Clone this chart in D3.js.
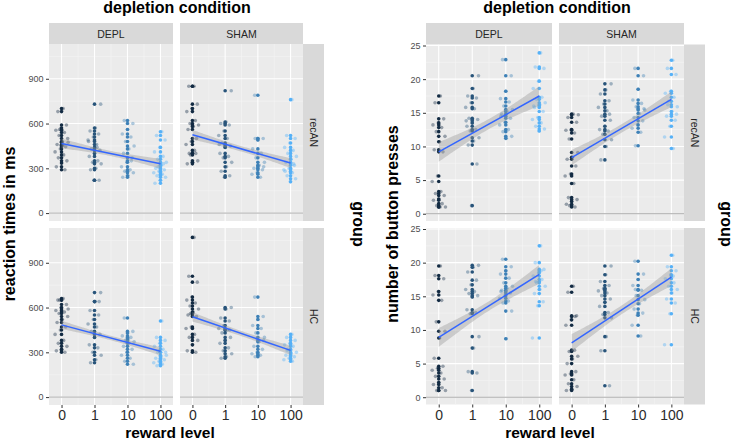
<!DOCTYPE html>
<html>
<head>
<meta charset="utf-8">
<script src="https://cdn.jsdelivr.net/npm/d3@7"></script>
<style>
  html, body { margin: 0; padding: 0; background: #ffffff; }
  svg { display: block; font-family: "Liberation Sans", Arial, sans-serif; }
</style>
</head>
<body>
<svg id="chart" width="735" height="441"></svg>
<script>
// ---------------- DATA ----------------
const rewardLabels = ["0", "1", "10", "100"];
const depletionLevels = ["DEPL", "SHAM"];
const groupLevels = ["recAN", "HC"];

// Reaction times (ms) — one array per reward level (0, 1, 10, 100)
const rtDeplRecAN = [
  [700, 680, 590, 570, 555, 540, 520, 500, 480, 460, 445, 430, 410, 390, 370, 350, 335, 310, 290, 560, 475, 455],
  [730, 570, 550, 530, 510, 490, 460, 430, 420, 400, 380, 350, 340, 330, 300, 290, 220, 220, 480, 440],
  [620, 600, 560, 530, 510, 480, 450, 430, 400, 370, 340, 310, 290, 280, 270, 250, 240, 350],
  [545, 520, 490, 440, 410, 380, 360, 340, 320, 300, 290, 280, 270, 260, 250, 240, 220, 200, 330, 310]
];
const rtShamRecAN = [
  [850, 850, 730, 700, 680, 620, 600, 590, 580, 560, 500, 480, 460, 420, 400, 350, 340, 330, 400, 390],
  [820, 610, 600, 590, 550, 520, 500, 470, 450, 440, 400, 380, 370, 340, 310, 280, 250, 240, 460],
  [790, 500, 490, 430, 400, 370, 340, 320, 300, 290, 270, 260, 240, 500, 310],
  [760, 520, 500, 470, 440, 420, 400, 380, 360, 340, 320, 300, 290, 270, 250, 230, 210, 280, 330]
];
const rtDeplHC = [
  [660, 650, 620, 600, 580, 570, 560, 540, 520, 500, 470, 450, 420, 380, 360, 340, 320, 310, 300, 650, 590],
  [700, 640, 580, 550, 520, 490, 470, 440, 420, 400, 350, 330, 300, 280, 250, 230, 640],
  [530, 440, 430, 410, 400, 380, 370, 360, 340, 320, 300, 280, 260, 240, 220, 390],
  [510, 400, 380, 360, 340, 320, 300, 280, 270, 260, 250, 240, 230, 220, 210, 300]
];
const rtShamHC = [
  [1070, 810, 770, 670, 650, 630, 610, 590, 570, 550, 540, 470, 460, 420, 400, 380, 350, 310, 300, 560],
  [600, 590, 530, 510, 480, 460, 450, 430, 400, 380, 360, 330, 310, 290, 270, 260, 450],
  [670, 540, 520, 480, 460, 430, 400, 370, 340, 320, 300, 290, 280, 270, 380],
  [420, 400, 380, 360, 350, 340, 320, 300, 290, 280, 270, 260, 250, 240, 310]
];

// Number of button presses — one array per reward level (0, 1, 10, 100)
const bpDeplRecAN = [
  [17.5, 16.5, 14.1, 13.5, 13.2, 12.8, 12.2, 11.5, 10.7, 9.5, 9.2, 5.6, 4.8, 3.3, 3.0, 2.7, 2.2, 2.0, 1.5, 1.2, 1.0, 1.0],
  [20.5, 18.6, 17.5, 17.2, 16.5, 15.8, 15.6, 14.2, 14.0, 13.5, 13.0, 12.5, 12.3, 11.3, 10.8, 10.2, 7.4, 1.2, 13.8],
  [22.9, 20.5, 18.2, 17.1, 16.6, 16.0, 15.5, 15.2, 14.8, 14.2, 13.6, 13.2, 12.5, 12.2, 11.5, 11.2, 14.5],
  [23.9, 21.8, 21.6, 19.7, 18.6, 17.3, 17.0, 16.5, 16.2, 15.8, 15.2, 14.3, 14.0, 13.5, 13.0, 12.6, 12.3, 16.0]
];
const bpShamRecAN = [
  [14.8, 14.3, 13.6, 12.5, 12.4, 12.0, 11.1, 9.1, 8.4, 8.1, 7.1, 5.9, 5.6, 4.5, 2.4, 2.1, 1.8, 1.4, 1.0, 1.2, 14.7],
  [19.3, 18.4, 17.8, 16.8, 16.3, 15.8, 15.3, 14.5, 13.9, 13.0, 12.5, 12.3, 11.8, 11.0, 10.0, 8.0, 14.8],
  [21.6, 20.5, 18.5, 16.9, 16.4, 15.9, 15.4, 14.9, 14.3, 13.8, 13.2, 12.7, 12.1, 10.1, 15.6],
  [22.8, 21.6, 20.7, 18.2, 17.9, 17.3, 16.7, 15.9, 15.2, 14.5, 13.9, 13.0, 11.4, 9.7, 16.2, 14.8]
];
const bpDeplHC = [
  [19.5, 18.1, 17.6, 15.7, 15.2, 14.4, 11.2, 9.8, 8.8, 5.8, 4.6, 4.3, 4.0, 3.6, 3.1, 2.7, 2.2, 1.9, 1.4, 1.0, 1.0],
  [19.6, 19.3, 18.6, 17.4, 16.7, 16.0, 15.7, 15.4, 15.1, 14.9, 13.0, 12.6, 12.4, 9.0, 7.3, 3.8, 3.6, 1.0],
  [20.5, 19.4, 18.8, 18.3, 17.7, 17.0, 16.5, 16.2, 15.9, 15.5, 15.1, 14.7, 14.3, 14.0, 12.8, 8.7, 15.7],
  [22.5, 20.0, 19.0, 18.5, 18.0, 17.5, 17.0, 16.5, 16.0, 15.4, 14.2, 13.6, 8.8, 18.8, 17.2]
];
const bpShamHC = [
  [16.5, 15.6, 12.1, 11.5, 10.7, 7.0, 6.8, 6.1, 5.7, 5.0, 3.8, 3.5, 3.3, 2.6, 2.0, 1.6, 1.2, 1.0, 12.0],
  [19.5, 18.2, 17.2, 16.6, 16.2, 15.8, 15.5, 15.1, 14.6, 14.1, 13.5, 12.6, 12.3, 11.8, 9.0, 6.9, 1.7, 16.0],
  [20.2, 18.3, 17.5, 16.6, 15.9, 15.1, 14.5, 13.9, 13.1, 12.5, 12.2, 10.7, 9.1, 16.0],
  [21.1, 19.4, 18.8, 18.2, 17.6, 17.0, 16.5, 16.0, 15.5, 14.6, 14.0, 12.4, 7.8, 18.0]
];

// Linear fits (value at reward 0 and at reward 100) and SE half-widths, order: DEPL-recAN, SHAM-recAN, DEPL-HC, SHAM-HC
const rtFitStart = [467, 525, 484, 538];
const rtFitEnd   = [331, 335, 307, 313];
const rtSeMid    = [17, 18, 15, 17];
const rtSeEnd    = [33, 33, 28, 32];
const bpFitStart = [9.18, 8.33, 8.88, 8.08];
const bpFitEnd   = [17.5, 17.0, 18.26, 17.86];
const bpSeMid    = [0.75, 0.62, 0.7, 0.65];
const bpSeEnd    = [1.45, 1.15, 1.4, 1.3];

// Axis ticks
const rtMajorTicks = [0, 300, 600, 900];
const rtMinorTicks = [150, 450, 750, 1050];
const bpMajorTicks = [0, 5, 10, 15, 20, 25];
const bpMinorTicks = [2.5, 7.5, 12.5, 17.5, 22.5];

// ---------------- DRAWING ----------------
const svg = d3.select("#chart");
const color = d3.scaleLinear().domain([1, 4]).range(["#132B43", "#56B1F7"]).interpolate(d3.interpolateLab);
const jitter = i => ((((i + 1) * 0.6180339887) % 1) - 0.5) * 0.42;

function drawBlock(cfg) {
  const g = svg.append("g");
  const x = {};
  cfg.cols.forEach((c, ci) => { x[ci] = d3.scaleLinear().domain([0.62, 4.38]).range(c); });
  const y = {};
  cfg.rows.forEach((r, ri) => { y[ri] = d3.scaleLinear().domain(cfg.yDomain).range([r[1], r[0]]); });

  // column strips
  cfg.cols.forEach((c, ci) => {
    g.append("rect").attr("x", c[0]).attr("y", cfg.stripTop).attr("width", c[1] - c[0])
      .attr("height", cfg.rows[0][0] - cfg.stripTop).attr("fill", "#D9D9D9");
    g.append("text").attr("x", (c[0] + c[1]) / 2).attr("y", (cfg.stripTop + cfg.rows[0][0]) / 2)
      .attr("text-anchor", "middle").attr("dominant-baseline", "central")
      .attr("font-size", 10.5).attr("fill", "#262626").text(depletionLevels[ci]);
  });
  // row strips
  cfg.rows.forEach((r, ri) => {
    g.append("rect").attr("x", cfg.strip[0]).attr("y", r[0]).attr("width", cfg.strip[1] - cfg.strip[0])
      .attr("height", r[1] - r[0]).attr("fill", "#D9D9D9");
    g.append("text").attr("transform", `translate(${(cfg.strip[0] + cfg.strip[1]) / 2},${(r[0] + r[1]) / 2}) rotate(90)`)
      .attr("text-anchor", "middle").attr("dominant-baseline", "central")
      .attr("font-size", 10.5).attr("fill", "#262626").text(groupLevels[ri]);
  });

  cfg.rows.forEach((r, ri) => {
    cfg.cols.forEach((c, ci) => {
      const idx = ri * 2 + ci;
      const xs = x[ci], ys = y[ri];
      const p = g.append("g");
      const clipId = `clip-${cfg.id}-${idx}`;
      p.append("clipPath").attr("id", clipId).append("rect")
        .attr("x", c[0]).attr("y", r[0]).attr("width", c[1] - c[0]).attr("height", r[1] - r[0]);
      p.append("rect").attr("x", c[0]).attr("y", r[0]).attr("width", c[1] - c[0])
        .attr("height", r[1] - r[0]).attr("fill", "#EBEBEB");
      const inner = p.append("g").attr("clip-path", `url(#${clipId})`);
      // minor grid
      cfg.minor.forEach(t => inner.append("line").attr("x1", c[0]).attr("x2", c[1])
        .attr("y1", ys(t)).attr("y2", ys(t)).attr("stroke", "#F5F5F5").attr("stroke-width", 0.6));
      [1.5, 2.5, 3.5].forEach(t => inner.append("line").attr("y1", r[0]).attr("y2", r[1])
        .attr("x1", xs(t)).attr("x2", xs(t)).attr("stroke", "#F5F5F5").attr("stroke-width", 0.6));
      // major grid
      cfg.major.forEach(t => inner.append("line").attr("x1", c[0]).attr("x2", c[1])
        .attr("y1", ys(t)).attr("y2", ys(t)).attr("stroke", "#FFFFFF").attr("stroke-width", 1.1));
      [1, 2, 3, 4].forEach(t => inner.append("line").attr("y1", r[0]).attr("y2", r[1])
        .attr("x1", xs(t)).attr("x2", xs(t)).attr("stroke", "#FFFFFF").attr("stroke-width", 1.1));
      // zero reference line
      inner.append("line").attr("x1", c[0]).attr("x2", c[1]).attr("y1", ys(0)).attr("y2", ys(0))
        .attr("stroke", "#ABABAB").attr("stroke-width", 1);

      const series = cfg.data[idx];
      // jittered points (transparent)
      series.forEach((vals, li) => {
        inner.selectAll(null).data(vals).enter().append("circle")
          .attr("cx", (d, i) => xs(li + 1 + jitter(i + li * 7)))
          .attr("cy", d => ys(d)).attr("r", 1.8)
          .attr("fill", color(li + 1)).attr("fill-opacity", 0.4);
      });
      // exact points
      series.forEach((vals, li) => {
        inner.selectAll(null).data(vals).enter().append("circle")
          .attr("cx", xs(li + 1)).attr("cy", d => ys(d)).attr("r", 1.8)
          .attr("fill", color(li + 1));
      });
      // regression band & line
      const a = cfg.fitStart[idx], b = cfg.fitEnd[idx];
      const fit = t => a + (b - a) * (t - 1) / 3;
      const m = cfg.seMid[idx], e = cfg.seEnd[idx];
      const se = t => Math.sqrt(m * m + (e * e - m * m) * Math.pow((t - 2.5) / 1.5, 2));
      const ts = d3.range(1, 4.0001, 0.05);
      inner.append("path").datum(ts)
        .attr("d", d3.area().x(t => xs(t)).y0(t => ys(fit(t) - se(t))).y1(t => ys(fit(t) + se(t))))
        .attr("fill", "#999999").attr("fill-opacity", 0.4);
      inner.append("path").datum([1, 4])
        .attr("d", d3.line().x(t => xs(t)).y(t => ys(fit(t))))
        .attr("stroke", "#3366FF").attr("stroke-width", 1.5).attr("fill", "none");

      // y axis on first column
      if (ci === 0) {
        const ax = g.append("g").attr("transform", `translate(${c[0]},0)`)
          .call(d3.axisLeft(ys).tickValues(cfg.major).tickSize(3).tickPadding(2.5));
        ax.select(".domain").remove();
        ax.selectAll(".tick line").attr("stroke", "#333333");
        ax.selectAll(".tick text").attr("font-size", 9).attr("fill", "#4D4D4D")
          .attr("font-family", "Liberation Sans, Arial, sans-serif");
      }
      // x axis on bottom row
      if (ri === 1) {
        const ax = g.append("g").attr("transform", `translate(0,${r[1]})`)
          .call(d3.axisBottom(xs).tickValues([1, 2, 3, 4]).tickFormat((d, i) => rewardLabels[i]).tickSize(3).tickPadding(2.5));
        ax.select(".domain").remove();
        ax.selectAll(".tick line").attr("stroke", "#333333");
        ax.selectAll(".tick text").attr("font-size", 14).attr("fill", "#2B2B2B")
          .attr("font-family", "Liberation Sans, Arial, sans-serif");
      }
    });
  });

  const titleFont = { "font-size": 16, "font-weight": "bold", "fill": "#000000" };
  const addText = (sel, attrs) => { Object.entries(attrs).forEach(([k, v]) => sel.attr(k, v)); return sel; };
  addText(g.append("text").attr("x", cfg.topTitleX).attr("y", 12.5).attr("text-anchor", "middle")
    .text("depletion condition"), titleFont);
  addText(g.append("text").attr("x", cfg.bottomTitleX).attr("y", 437.5).attr("text-anchor", "middle")
    .text("reward level"), titleFont).attr("font-size", 15.5);
  addText(g.append("text").attr("transform", `translate(${cfg.yTitleX},224) rotate(-90)`)
    .attr("text-anchor", "middle").text(cfg.yTitle), titleFont);
  addText(g.append("text").attr("transform", `translate(${cfg.groupX},224) rotate(90)`)
    .attr("text-anchor", "middle").text("group"), titleFont);
}

drawBlock({
  id: "rt",
  cols: [[49, 173], [180, 303]],
  rows: [[44, 221], [228, 405]],
  strip: [303, 324], stripTop: 23,
  yDomain: [-53, 1133],
  major: rtMajorTicks, minor: rtMinorTicks,
  data: [rtDeplRecAN, rtShamRecAN, rtDeplHC, rtShamHC],
  fitStart: rtFitStart, fitEnd: rtFitEnd, seMid: rtSeMid, seEnd: rtSeEnd,
  topTitleX: 177, bottomTitleX: 170, yTitleX: 15, yTitle: "reaction times in ms", groupX: 353
});

drawBlock({
  id: "bp",
  cols: [[426, 552], [559, 684]],
  rows: [[44.5, 221], [228, 404.5]],
  strip: [684, 705], stripTop: 23,
  yDomain: [-1.08, 25.15],
  major: bpMajorTicks, minor: bpMinorTicks,
  data: [bpDeplRecAN, bpShamRecAN, bpDeplHC, bpShamHC],
  fitStart: bpFitStart, fitEnd: bpFitEnd, seMid: bpSeMid, seEnd: bpSeEnd,
  topTitleX: 557, bottomTitleX: 550, yTitleX: 398, yTitle: "number of button presses", groupX: 721
});
</script>
</body>
</html>
